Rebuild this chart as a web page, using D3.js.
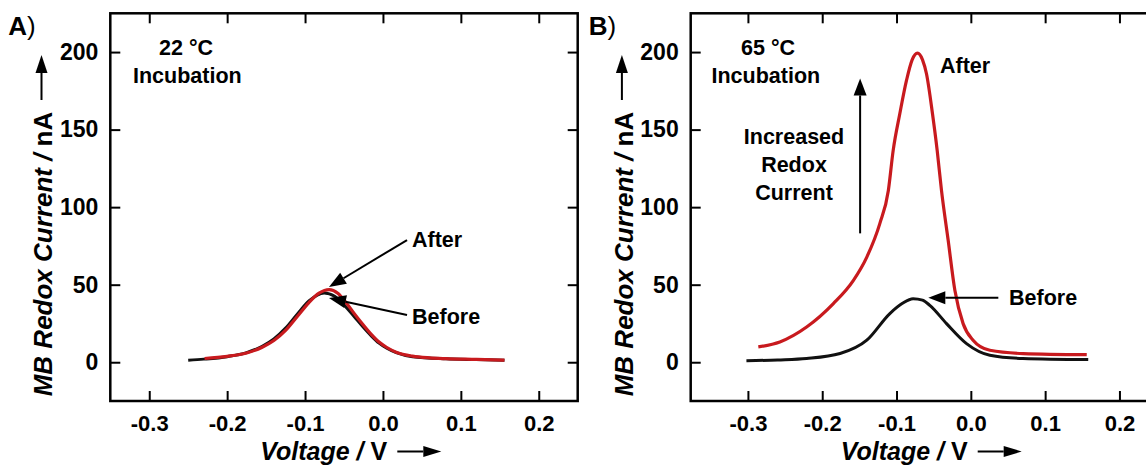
<!DOCTYPE html>
<html>
<head>
<meta charset="utf-8">
<script src="https://cdn.jsdelivr.net/npm/d3@7"></script>
<style>
  html, body { margin: 0; padding: 0; background: #fff; }
  svg { display: block; }
</style>
</head>
<body>
<svg id="chart" width="1146" height="465"></svg>
<script>
// ---------------- DATA ----------------
const xTickValues = [-0.3, -0.2, -0.1, 0.0, 0.1, 0.2];
const xTickLabels = ["-0.3", "-0.2", "-0.1", "0.0", "0.1", "0.2"];
const yTickValues = [0, 50, 100, 150, 200];
const yTickLabels = ["0", "50", "100", "150", "200"];

// Panel A (22 °C incubation)
const voltageA_before = [-0.25, -0.23, -0.2, -0.175, -0.155, -0.14, -0.125, -0.11, -0.095, -0.0754, -0.062, -0.05, -0.037, -0.026, -0.015, -0.005, 0.005, 0.017, 0.038, 0.081, 0.12, 0.156];
const currentA_before = [1.3, 2.0, 3.6, 6.2, 10.3, 15.0, 22.0, 31.0, 39.5, 44.7, 42.5, 37.0, 29.5, 23.0, 17.0, 12.3, 9.0, 6.2, 3.6, 2.2, 1.7, 1.3];
const voltageA_after  = [-0.229, -0.2, -0.175, -0.155, -0.14, -0.125, -0.11, -0.095, -0.082, -0.069, -0.058, -0.048, -0.037, -0.026, -0.015, -0.005, 0.005, 0.017, 0.038, 0.06, 0.081, 0.12, 0.156];
const currentA_after  = [2.4, 3.8, 6.0, 9.7, 14.0, 20.5, 29.5, 38.5, 44.5, 46.8, 44.5, 38.9, 31.5, 24.5, 18.0, 13.0, 9.5, 6.5, 3.9, 2.8, 2.3, 1.8, 1.3];

// Panel B (65 °C incubation)
const voltageB_before = [-0.302, -0.26, -0.221, -0.176, -0.14, -0.109, -0.092, -0.0777, -0.065, -0.0552, -0.0327, -0.0058, 0.0256, 0.07, 0.158];
const currentB_before = [0.9, 1.5, 2.4, 5.6, 14.2, 31.4, 38.0, 41.0, 40.0, 36.7, 24.9, 12.0, 4.5, 2.4, 1.7];
const voltageB_after  = [-0.286, -0.257, -0.221, -0.185, -0.158, -0.14, -0.1225, -0.111, -0.1045, -0.0956, -0.0866, -0.079, -0.0718, -0.065, -0.0597, -0.0516, -0.0453, -0.0395, -0.0305, -0.0215, -0.0104, 0.003, 0.0256, 0.0704, 0.156];
const currentB_after  = [9.9, 13.1, 22.7, 37.8, 52.8, 67.8, 89.4, 110.8, 136.6, 160.2, 181.7, 195.0, 199.3, 195.0, 186.0, 160.2, 136.6, 110.8, 78.6, 46.4, 24.9, 14.2, 7.7, 5.6, 4.9];

// ---------------- LAYOUT ----------------
const FONT = "'Liberation Sans', Arial, Helvetica, sans-serif";
const RED = "#c81a1e";
const yDomain = [-25, 225];
const panels = [
  { key: "A", x0: 110.3, x1: 577.7, y0: 13.3, y1: 401, xDomain: [-0.35, 0.25],
    before: d3.zip(voltageA_before, currentA_before), after: d3.zip(voltageA_after, currentA_after) },
  { key: "B", x0: 690.7, x1: 1156.6, y0: 13.3, y1: 401, xDomain: [-0.377, 0.25],
    before: d3.zip(voltageB_before, currentB_before), after: d3.zip(voltageB_after, currentB_after) }
];

const svg = d3.select("#chart");

function arrow(g, x1, y1, x2, y2, len, hw) {
  const a = Math.atan2(y2 - y1, x2 - x1);
  const bx = x2 - len * Math.cos(a), by = y2 - len * Math.sin(a);
  g.append("line").attr("x1", x1).attr("y1", y1).attr("x2", bx).attr("y2", by)
    .attr("stroke", "#000").attr("stroke-width", 2);
  const px = -Math.sin(a) * hw, py = Math.cos(a) * hw;
  g.append("path")
    .attr("d", `M${x2},${y2}L${bx + px},${by + py}L${bx - px},${by - py}Z`)
    .attr("fill", "#000");
}

function styleAxis(g, size) {
  g.select(".domain").remove();
  g.selectAll(".tick line").attr("stroke", "#000").attr("stroke-width", 2);
  g.selectAll(".tick text").attr("fill", "#000")
    .style("font-family", FONT).style("font-size", size + "px").style("font-weight", "bold");
}

panels.forEach(p => {
  const x = d3.scaleLinear().domain(p.xDomain).range([p.x0, p.x1]);
  const y = d3.scaleLinear().domain(yDomain).range([p.y1, p.y0]);
  p.x = x; p.y = y;
  const g = svg.append("g");

  // axes (inward ticks)
  const gb = g.append("g").attr("transform", `translate(0,${p.y1})`)
    .call(d3.axisBottom(x).tickValues(xTickValues).tickFormat((d, i) => xTickLabels[i]).tickSize(-10).tickPadding(14.4));
  styleAxis(gb, 22);
  const gt = g.append("g").attr("transform", `translate(0,${p.y0})`)
    .call(d3.axisTop(x).tickValues(xTickValues).tickFormat("").tickSize(-10));
  styleAxis(gt, 22);
  const gl = g.append("g").attr("transform", `translate(${p.x0},0)`)
    .call(d3.axisLeft(y).tickValues(yTickValues).tickFormat((d, i) => yTickLabels[i]).tickSize(-10).tickPadding(12));
  styleAxis(gl, 23);
  const gr = g.append("g").attr("transform", `translate(${p.x1},0)`)
    .call(d3.axisRight(y).tickValues(yTickValues).tickFormat("").tickSize(-10));
  styleAxis(gr, 23);

  // frame
  g.append("rect").attr("x", p.x0).attr("y", p.y0)
    .attr("width", p.x1 - p.x0).attr("height", p.y1 - p.y0)
    .attr("fill", "none").attr("stroke", "#000").attr("stroke-width", 2.5);

  // curves
  const line = d3.line().x(d => x(d[0])).y(d => y(d[1])).curve(d3.curveMonotoneX);
  g.append("path").datum(p.before).attr("d", line)
    .attr("fill", "none").attr("stroke", "#111").attr("stroke-width", 3);
  g.append("path").datum(p.after).attr("d", line)
    .attr("fill", "none").attr("stroke", RED).attr("stroke-width", 3.2);

  // y axis title with arrow
  const yl = g.append("text")
    .attr("transform", `translate(${p.x0 - 58},254) rotate(-90)`)
    .attr("text-anchor", "middle")
    .style("font-family", FONT).style("font-size", "26px").style("font-weight", "bold").attr("fill", "#000");
  yl.append("tspan").style("font-style", "italic").text("MB Redox Current / ");
  yl.append("tspan").text("nA");
  arrow(g, p.x0 - 68.8, 100, p.x0 - 68.8, 55, 18, 6);

  // x axis title with arrow
  const xl = g.append("text")
    .attr("x", p.x0 + 150).attr("y", 459.5)
    .style("font-family", FONT).style("font-size", "25px").style("font-weight", "bold").attr("fill", "#000");
  xl.append("tspan").style("font-style", "italic").text("Voltage / ");
  xl.append("tspan").text("V");
  arrow(g, p.x0 + 287, 451.5, p.x0 + 331, 451.5, 18, 5.5);

  // panel letter
  const pl = g.append("text").attr("x", p.x0 - 102).attr("y", 35)
    .style("font-family", FONT).style("font-size", "26px").attr("fill", "#000");
  pl.append("tspan").style("font-weight", "bold").text(p.key);
  pl.append("tspan").text(")");
});

// ---------------- ANNOTATIONS ----------------
function label(txt, xp, yp, anchor) {
  svg.append("text").attr("x", xp).attr("y", yp)
    .attr("text-anchor", anchor || "start")
    .style("font-family", FONT).style("font-size", "21.5px").style("font-weight", "bold")
    .attr("fill", "#000").text(txt);
}
const A = panels[0], B = panels[1];
const ga = svg.append("g");

// Panel A
label("22 °C", 159, 55);
label("Incubation", 133, 83);
label("After", 412, 247);
label("Before", 412, 323.5);
arrow(ga, A.x(0.0309), A.y(78.8), A.x(-0.0693), A.y(48.5), 17, 6.5);
arrow(ga, A.x(0.0309), A.y(30.4), A.x(-0.0693), A.y(41.4), 17, 6.5);

// Panel B
label("65 °C", 741, 55);
label("Incubation", 711.5, 83);
label("Increased", 794, 143.5, "middle");
label("Redox", 794, 171.7, "middle");
label("Current", 794, 200, "middle");
label("After", 940, 73.3);
label("Before", 1009, 304.7);
arrow(ga, B.x(0.037), B.y(41.6), B.x(-0.0572), B.y(41.6), 17, 6.5);
arrow(ga, B.x(-0.149), B.y(83.1), B.x(-0.149), B.y(183), 17, 6.5);
</script>
</body>
</html>
